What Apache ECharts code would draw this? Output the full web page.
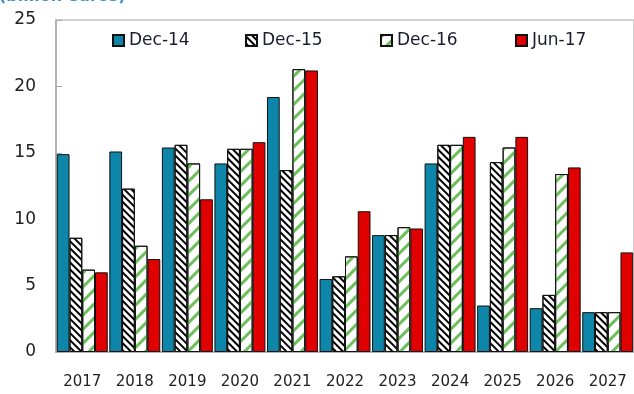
<!DOCTYPE html>
<html><head><meta charset="utf-8">
<script src="https://cdn.jsdelivr.net/npm/echarts@6/dist/echarts.min.js"></script>
<style>html,body{margin:0;padding:0;background:#fff}#c{width:634px;height:394px}</style>
</head><body><div id="c"></div>
<script>
const categories = ['2017','2018','2019','2020','2021','2022','2023','2024','2025','2026','2027'];
const seriesNames = ['Dec-14','Dec-15','Dec-16','Jun-17'];
const dec14 = [14.9, 15.1, 15.4, 14.2, 19.2, 5.5, 8.8, 14.2, 3.5, 3.3, 3.0];
const dec15 = [8.6, 12.3, 15.6, 15.3, 13.7, 5.7, 8.8, 15.6, 14.3, 4.3, 3.0];
const dec16 = [6.2, 8.0, 14.2, 15.3, 21.3, 7.2, 9.4, 15.6, 15.4, 13.4, 3.0];
const jun17 = [6.0, 7.0, 11.5, 15.8, 21.2, 10.6, 9.3, 16.2, 16.2, 13.9, 7.5];
const yTicks = [0, 5, 10, 15, 20, 25];
const unitLabel = '(billion euros)';

const chart = echarts.init(document.getElementById('c'), null, {renderer:'canvas'});
const font = 'DejaVu Sans';
const hatchBlack = {symbol:'rect', symbolSize:1, dashArrayX:[1,0], dashArrayY:[2,3], rotation:Math.PI/4, color:'#000'};
const hatchGreen = {symbol:'rect', symbolSize:1, dashArrayX:[1,0], dashArrayY:[2.5,6.5], rotation:-Math.PI/4, color:'#6cbf5a'};
const styles = [
  {color:'#0e86a9', borderColor:'#111', borderWidth:1},
  {color:'#fff', borderColor:'#111', borderWidth:1, decal:hatchBlack},
  {color:'#fff', borderColor:'#111', borderWidth:1, decal:hatchGreen},
  {color:'#e00000', borderColor:'#111', borderWidth:1}
];
const data = [dec14, dec15, dec16, jun17];
const legendLeft = [107, 240, 375, 510];
chart.setOption({
  animation:false,
  textStyle:{fontFamily:font},
  graphic:[{type:'text', left:-1, top:-11, style:{text:unitLabel, font:'bold 16px "DejaVu Sans"', fill:'#3a90d0'}}],
  legend: seriesNames.map((n,i)=>({data:[n], left:legendLeft[i], top:27, itemWidth:11, itemHeight:11, itemGap:6, icon:'rect',
    textStyle:{fontSize:17, color:'#1c1c30', fontFamily:font}})),
  grid:{left:56, top:20, bottom:42, right:-12, show:true, borderColor:'#c4c4c4', borderWidth:1.5},
  xAxis:{type:'category', data:categories, axisTick:{show:false},
    axisLine:{lineStyle:{color:'#a8a8a8', width:1.5}},
    axisLabel:{fontSize:15, color:'#222', margin:23, interval:0, fontFamily:font}},
  yAxis:{type:'value', min:yTicks[0], max:yTicks[yTicks.length-1], interval:5,
    axisLine:{show:true, lineStyle:{color:'#a8a8a8', width:1.5}},
    axisTick:{show:true, inside:true, length:6, lineStyle:{color:'#a8a8a8'}},
    splitLine:{show:false},
    axisLabel:{fontSize:17, color:'#222', margin:20, fontFamily:font}},
  series: seriesNames.map((n,i)=>({name:n, type:'bar', data:data[i], barGap:'0%', barCategoryGap:'3%', itemStyle:styles[i]}))
});
</script></body></html>
